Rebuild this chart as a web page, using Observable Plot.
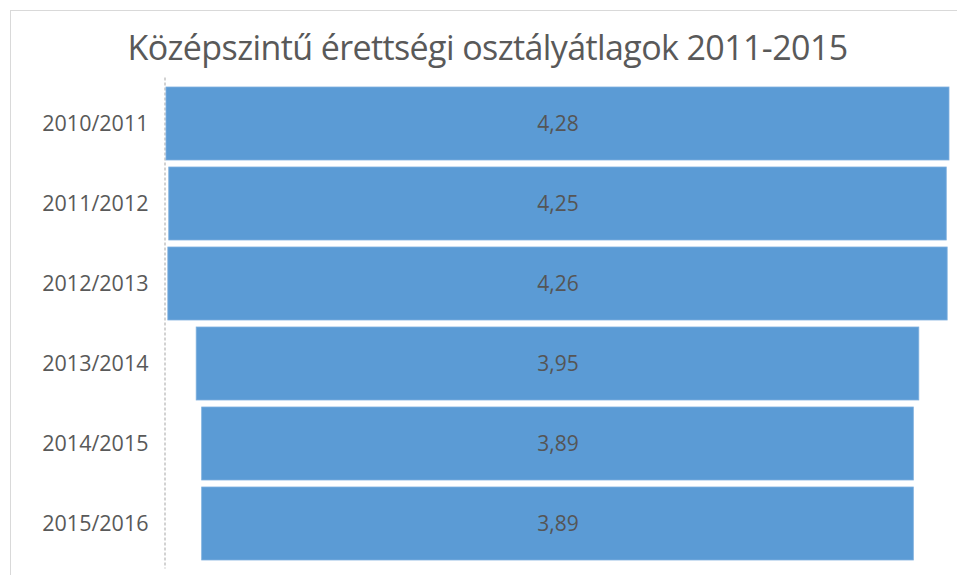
<!DOCTYPE html>
<html>
<head>
<meta charset="utf-8">
<script src="https://cdn.jsdelivr.net/npm/d3@7"></script>
<script src="https://cdn.jsdelivr.net/npm/@observablehq/plot@0.6"></script>
<style>
  html, body { margin: 0; padding: 0; background: #fff; }
  #wrap { position: relative; width: 957px; height: 575px; overflow: hidden; }
  #frame { position: absolute; left: 10px; top: 10px; width: 960px; height: 600px;
           border-left: 1.5px solid #d9d9d9; border-top: 1.5px solid #d9d9d9; }
  #title { position: absolute; left: 4px; width: 967px; top: 24px; text-align: center;
           font-family: "Open Sans", sans-serif; font-size: 34px; color: #595959;
           letter-spacing: -0.6px; white-space: nowrap; }
  #chart { position: absolute; left: 0; top: 0; }
</style>
</head>
<body>
<div id="wrap">
  <div id="frame"></div>
  <div id="title">Középszintű érettségi osztályátlagok 2011-2015</div>
  <div id="chart"></div>
</div>
<script>
const years = ["2010/2011", "2011/2012", "2012/2013", "2013/2014", "2014/2015", "2015/2016"];
const averages = [4.28, 4.25, 4.26, 3.95, 3.89, 3.89];
const labels = ["4,28", "4,25", "4,26", "3,95", "3,89", "3,89"];

const data = years.map((y, i) => ({year: y, value: averages[i], label: labels[i]}));
const half = d3.max(averages) / 2;

const chart = Plot.plot({
  width: 957,
  height: 575,
  marginLeft: 166,
  marginRight: 8,
  marginTop: 77.5,
  marginBottom: 6.5,
  x: {domain: [-half, half], axis: null},
  y: {domain: years, padding: 0.09, label: null},
  style: {fontFamily: "'Open Sans', sans-serif", background: "transparent"},
  marks: [
    Plot.ruleX([-half], {stroke: "#c4c4c4", strokeWidth: 1.5, strokeDasharray: "3,2", dx: -1.5}),
    Plot.barX(data, {
      y: "year",
      x1: d => -d.value / 2,
      x2: d => d.value / 2,
      fill: "#5B9BD5",
      stroke: "#7fb0de",
      strokeWidth: 0.8
    }),
    Plot.text(data, {
      y: "year",
      x: () => 0,
      text: "label",
      fill: "#555555",
      fontSize: 21
    }),
    Plot.axisY({
      tickSize: 0,
      tickPadding: 18,
      fontSize: 21.5,
      fill: "#595959",
      label: null
    })
  ]
});
document.getElementById("chart").appendChild(chart);
</script>
</body>
</html>
